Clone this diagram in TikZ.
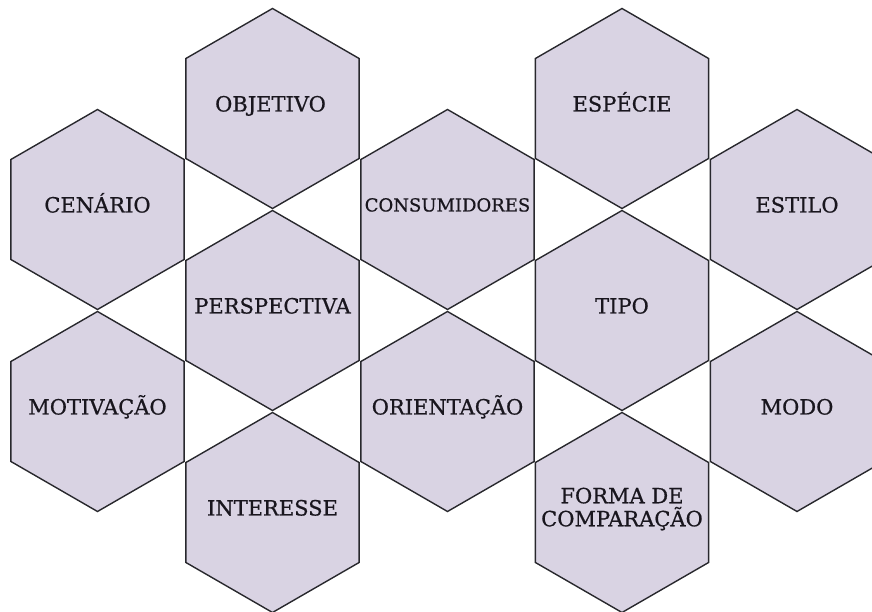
\documentclass[tikz,border=0pt]{standalone}
\usepackage{fontspec}
\setmainfont{DejaVu Serif}
\newfontfamily\hexfont{DejaVu Serif}[BoldFont={DejaVu Serif}, BoldFeatures={FakeBold=0.7}]
\definecolor{hexfill}{RGB}{217,211,227}
\definecolor{hexline}{RGB}{40,40,45}
\definecolor{hextext}{RGB}{25,22,30}
\tikzset{
  hexcell/.style={fill=hexfill, draw=hexline, line width=1.4pt, line join=miter},
  hexlabel/.style={text=hextext, inner sep=0pt, anchor=base, align=center,
                   font=\hexfont\bfseries\fontsize{21}{23}\selectfont},
  smalllabel/.style={hexlabel, font=\hexfont\bfseries\fontsize{18}{20}\selectfont},
}
\newcommand{\hexcellat}[2]{%
  \draw[hexcell] (#1,#2) ++(0,100) -- ++(-30:100) -- ++(0,-100) -- ++(-150:100)
    -- ++(150:100) -- ++(0,100) -- cycle;}
\begin{document}
\begin{tikzpicture}[x=1pt,y=1pt]
\useasboundingbox (0,0) rectangle (872,612);
\clip (0,0) rectangle (872,612);
% hexagon cells
\hexcellat{97.5}{402.5}
\hexcellat{97.5}{200.5}
\hexcellat{272.5}{503.5}
\hexcellat{272.5}{301.5}
\hexcellat{272.5}{99.5}
\hexcellat{447.5}{402.5}
\hexcellat{447.5}{200.5}
\hexcellat{622}{503.5}
\hexcellat{622}{301.5}
\hexcellat{622}{99.5}
\hexcellat{797}{402.5}
\hexcellat{797}{200.5}
% labels
\node[hexlabel] (cenario) at (97.5,399.5) {CENÁRIO};
\node[hexlabel] (motivacao) at (97.5,197.5) {MOTIVAÇÃO};
\node[hexlabel] (objetivo) at (270.5,500.5) {OBJETIVO};
\node[hexlabel] (perspectiva) at (272.5,298.5) {PERSPECTIVA};
\node[hexlabel] (interesse) at (272.5,96.5) {INTERESSE};
\node[smalllabel] (consumidores) at (447.5,400.5) {CONSUMIDORES};
\node[hexlabel] (orientacao) at (447.5,197.5) {ORIENTAÇÃO};
\node[hexlabel] (especie) at (622,500.5) {ESPÉCIE};
\node[hexlabel] (tipo) at (622,298.5) {TIPO};
\node[hexlabel, anchor=north] (forma) at (622,124.5) {FORMA DE\\COMPARAÇÃO};
\node[hexlabel] (estilo) at (797,399.5) {ESTILO};
\node[hexlabel] (modo) at (797,197.5) {MODO};
\end{tikzpicture}
\end{document}
